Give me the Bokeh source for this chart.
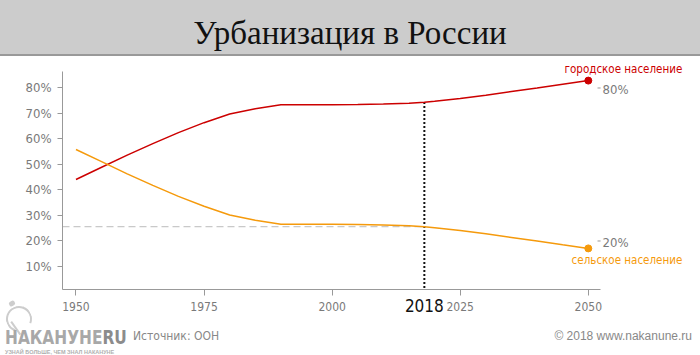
from bokeh.plotting import figure
from bokeh.models import (Range1d, LinearAxis, FixedTicker, Label, Div,
                          PrintfTickFormatter)
from bokeh.layouts import column
from bokeh.embed import file_html
from bokeh.resources import INLINE

# ---- data ----
title_text = "Урбанизация в России"
years = [1950, 1955, 1960, 1965, 1970, 1975, 1980, 1985, 1990, 1995, 2000,
         2005, 2010, 2015, 2018, 2020, 2025, 2030, 2035, 2040, 2045, 2050]
urban = [44.1, 48.9, 53.7, 58.2, 62.5, 66.4, 69.8, 71.9, 73.4, 73.4, 73.4,
         73.5, 73.7, 74.0, 74.4, 74.8, 75.9, 77.2, 78.6, 80.0, 81.5, 82.9]
rural = [55.9, 51.1, 46.3, 41.8, 37.5, 33.6, 30.2, 28.1, 26.6, 26.6, 26.6,
         26.5, 26.3, 26.0, 25.6, 25.2, 24.1, 22.8, 21.4, 20.0, 18.5, 17.1]
urban_label = "городское население"
rural_label = "сельское население"
highlight_year = 2018
x_ticks = [1950, 1975, 2000, 2025, 2050]
y_ticks = [10, 20, 30, 40, 50, 60, 70, 80]
right_ticks = [20, 80]
source_text = "Источник: ООН"
copyright_text = "© 2018 www.nakanune.ru"
logo_text = "НАКАНУНЕ"
logo_suffix = "RU"
logo_tagline = "УЗНАЙ БОЛЬШЕ, ЧЕМ ЗНАЛ НАКАНУНЕ"

RED = "#cc0000"
ORANGE = "#f59a0c"
GRAY = "#7a7a7a"
AXIS = "#999999"
COND = "DejaVu Sans Condensed"

W = 700
X_AXIS = (1947.37, 2052.4)
Y_AXIS = (0.98, 86.5)

# ---- title band (y 0..56) ----
title_div = Div(
    text=f'<div style="font-family:\'Liberation Serif\',serif;font-size:33px;color:#111;'
         f'text-align:center;padding-top:15px;line-height:37px;width:{W}px;white-space:nowrap;">{title_text}</div>',
    width=W, height=56, margin=0,
    styles={"background": "linear-gradient(to bottom, #cccccc 0px, #cccccc 54px, #999999 54px, #999999 56px)"})

# ---- chart (y 56..329) ----
p = figure(width=W, height=273, output_backend="svg", toolbar_location=None,
           x_range=Range1d(1947.37, 2071.9), y_range=Range1d(0.98, 92.35),
           min_border_left=62, min_border_right=0, min_border_top=0,
           min_border_bottom=40, margin=0)
p.outline_line_color = None
p.xgrid.visible = False
p.ygrid.visible = False
p.xaxis.visible = False
p.yaxis.visible = False

xa = LinearAxis(ticker=FixedTicker(ticks=x_ticks), bounds=X_AXIS)
xa.axis_line_color = AXIS
xa.major_tick_line_color = AXIS
xa.major_tick_out = 6
xa.major_tick_in = 0
xa.minor_tick_line_color = None
xa.major_label_text_font = COND
xa.major_label_text_font_size = "12px"
xa.major_label_text_color = GRAY
xa.major_label_standoff = 6
p.add_layout(xa, "below")

xh = LinearAxis(ticker=FixedTicker(ticks=[highlight_year]), bounds=X_AXIS)
xh.axis_line_color = None
xh.major_tick_line_color = None
xh.major_tick_out = 0
xh.major_tick_in = 0
xh.minor_tick_line_color = None
xh.major_label_text_font = COND
xh.major_label_text_font_size = "17px"
xh.major_label_text_color = "#111111"
xh.major_label_standoff = -15
p.add_layout(xh, "below")

ya = LinearAxis(ticker=FixedTicker(ticks=y_ticks), formatter=PrintfTickFormatter(format="%d%%"),
                bounds=Y_AXIS)
ya.axis_line_color = AXIS
ya.major_tick_line_color = AXIS
ya.major_tick_out = 5
ya.major_tick_in = 0
ya.minor_tick_line_color = None
ya.major_label_text_font = COND
ya.major_label_text_font_size = "13px"
ya.major_label_text_color = GRAY
ya.major_label_standoff = 6
p.add_layout(ya, "left")

# right-hand value marks
x_end = X_AXIS[1]
p.segment(x0=[x_end - 0.6] * len(right_ticks), y0=right_ticks,
          x1=[x_end] * len(right_ticks), y1=right_ticks, line_color=AXIS, line_width=1)
for t in right_ticks:
    p.add_layout(Label(x=x_end, y=t, text=f"{t}%", x_offset=2, y_offset=-2,
                       text_align="left", text_baseline="middle", text_font=COND,
                       text_font_size="13px", text_color=GRAY))

# reference lines for highlight year
hi = years.index(highlight_year)
p.segment(x0=[X_AXIS[0]], y0=[rural[hi]], x1=[highlight_year], y1=[rural[hi]],
          line_color="#bbbbbb", line_width=1, line_dash="7 4")
p.segment(x0=[highlight_year], y0=[0], x1=[highlight_year], y1=[urban[hi]],
          line_color="#111111", line_width=2, line_dash="2 2")

# series
p.line(years, urban, line_color=RED, line_width=1.5)
p.line(years, rural, line_color=ORANGE, line_width=1.5)
p.scatter([years[-1]], [urban[-1]], size=7, fill_color=RED, line_color=RED)
p.scatter([years[-1]], [rural[-1]], size=7, fill_color=ORANGE, line_color=ORANGE)

p.add_layout(Label(x=years[-1], y=urban[-1], text=urban_label, x_offset=94, y_offset=12,
                   text_align="right", text_baseline="middle", text_font=COND,
                   text_font_size="11.5px", text_color=RED))
p.add_layout(Label(x=years[-1], y=rural[-1], text=rural_label, x_offset=94, y_offset=-11.5,
                   text_align="right", text_baseline="middle", text_font=COND,
                   text_font_size="11.5px", text_color=ORANGE))

# ---- footer (overlaps the chart's bottom border: y 295..355) ----
footer_html = f'''
<div style="position:relative;width:{W}px;height:60px;">
  <div style="position:absolute;left:6px;top:11px;width:26px;height:26px;border:2px solid #cdcdcd;
       border-radius:50%;border-bottom-color:transparent;transform:rotate(-25deg);"></div>
  <div style="position:absolute;left:9px;top:6px;width:6px;height:5px;background:#cdcdcd;
       border-radius:2px;transform:rotate(-35deg);"></div>
  <div style="position:absolute;left:12px;top:26px;width:16px;height:2px;background:#cdcdcd;
       transform:rotate(55deg);transform-origin:0 0;"></div>
  <span style="position:absolute;left:5px;top:34px;line-height:16px;font-size:19px;white-space:nowrap;
        font-family:'DejaVu Sans Condensed',sans-serif;font-weight:bold;color:#a8a8a8;
        transform:scaleX(0.9);transform-origin:0 0;">{logo_text}<span style="color:#8c8c8c;">{logo_suffix}</span></span>
  <span style="position:absolute;left:5px;top:53.5px;line-height:6px;font-size:5.5px;white-space:nowrap;
        font-family:'Liberation Sans',sans-serif;font-weight:bold;color:#b0b0b0;">{logo_tagline}</span>
  <span style="position:absolute;left:133px;top:34px;line-height:14px;font-size:12px;white-space:nowrap;
        font-family:'DejaVu Sans Condensed',sans-serif;color:#888888;">{source_text}</span>
  <span style="position:absolute;right:8px;top:34px;line-height:14px;font-size:12px;white-space:nowrap;
        font-family:'Liberation Sans',sans-serif;color:#888888;">{copyright_text}</span>
</div>'''
footer_div = Div(text=footer_html, width=W, height=60, margin=(-34, 0, 0, 0))

layout = column(title_div, p, footer_div, spacing=0)
open("out.html", "w").write(file_html(layout, INLINE))
